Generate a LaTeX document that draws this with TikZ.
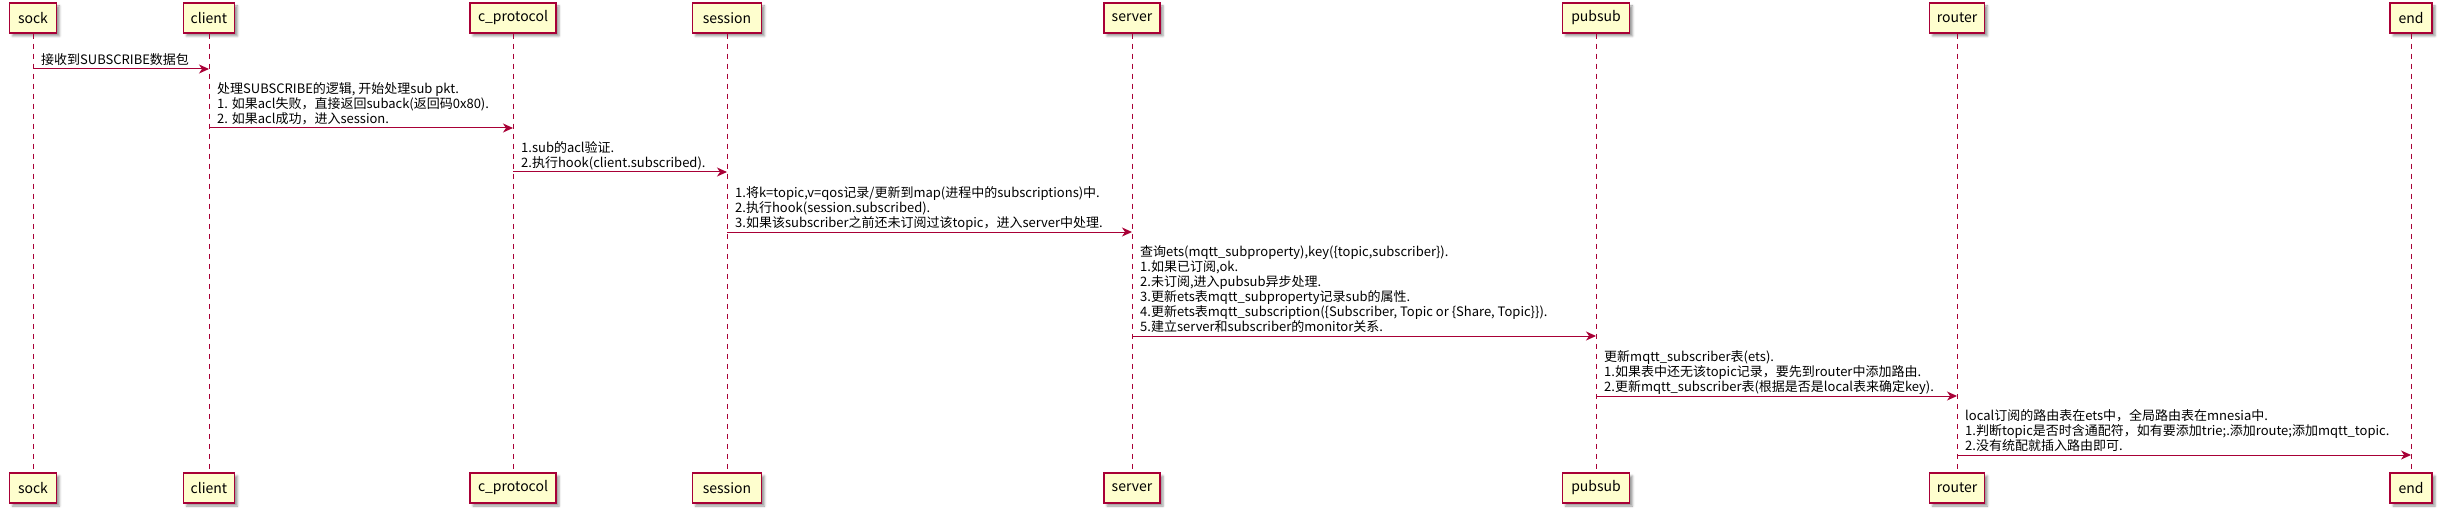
\documentclass[tikz,border=0pt]{standalone}
\usepackage{fontspec}
\setmainfont{Noto Sans CJK SC}
\usepackage{tikz}
\usetikzlibrary{positioning,calc,arrows.meta,shadows.blur}
\definecolor{umlred}{HTML}{A80036}
\definecolor{umlfill}{HTML}{FEFECE}
\tikzstyle{line} = [draw=umlred,line width=1pt]

\begin{document}
\begin{tikzpicture}[x=1pt,y=-1pt,
                actor/.style = {draw=umlred, fill=umlfill, line width=1.5pt,
                  minimum height=30pt, inner sep=0pt,
                  font=\fontsize{14}{16}\selectfont,
                  blur shadow={shadow xshift=3pt, shadow yshift=-3pt, shadow blur steps=4}},
                lifeline/.style = {line, dash pattern=on 5pt off 5pt},
                msg/.style = {line, -{Stealth[length=10pt,width=9pt,inset=3pt]}},
                lbl/.style = {anchor=south west, inner sep=0pt, align=left,
                  font=\fontsize{13}{15}\selectfont}]
                \useasboundingbox (0,0) rectangle (2440,513);
                % participants, top row
                \node[actor, minimum width=47pt] (sock) at (33,18) {sock};
                \node[actor, minimum width=51pt] (client) at (209,18) {client};
                \node[actor, minimum width=86pt] (cproto) at (513,18) {c\_protocol};
                \node[actor, minimum width=69pt] (session) at (727,18) {session};
                \node[actor, minimum width=56pt] (server) at (1132,18) {server};
                \node[actor, minimum width=67pt] (pubsub) at (1596,18) {pubsub};
                \node[actor, minimum width=55pt] (router) at (1957,18) {router};
                \node[actor, minimum width=42pt] (fin) at (2411,18) {end};
                % participants, bottom row
                \node[actor, minimum width=47pt] (sockb) at (33,488) {sock};
                \node[actor, minimum width=51pt] (clientb) at (209,488) {client};
                \node[actor, minimum width=86pt] (cprotob) at (513,488) {c\_protocol};
                \node[actor, minimum width=69pt] (sessionb) at (727,488) {session};
                \node[actor, minimum width=56pt] (serverb) at (1132,488) {server};
                \node[actor, minimum width=67pt] (pubsubb) at (1596,488) {pubsub};
                \node[actor, minimum width=55pt] (routerb) at (1957,488) {router};
                \node[actor, minimum width=42pt] (finb) at (2411,488) {end};
                % lifelines
                \foreach \a/\b in {sock/sockb,client/clientb,cproto/cprotob,session/sessionb,server/serverb,pubsub/pubsubb,router/routerb,fin/finb}
                  \path[lifeline] (\a) -- (\b);
                % message rows
                \coordinate (y1) at (0,69);
                \coordinate (y2) at (0,128);
                \coordinate (y3) at (0,172);
                \coordinate (y4) at (0,232);
                \coordinate (y5) at (0,336);
                \coordinate (y6) at (0,396);
                \coordinate (y7) at (0,455);
                \path[msg] (sock |- y1) -- (client |- y1);
                \node[lbl] (msg1) at ([xshift=8pt]sock |- y1) {接收到SUBSCRIBE数据包\strut};
                \path[msg] (client |- y2) -- (cproto |- y2);
                \node[lbl] (msg2) at ([xshift=8pt]client |- y2) {处理SUBSCRIBE的逻辑, 开始处理sub pkt.\\1. 如果acl失败，直接返回suback(返回码0x80).\\2. 如果acl成功，进入session.\strut};
                \path[msg] (cproto |- y3) -- (session |- y3);
                \node[lbl] (msg3) at ([xshift=8pt]cproto |- y3) {1.sub的acl验证.\\2.执行hook(client.subscribed).\strut};
                \path[msg] (session |- y4) -- (server |- y4);
                \node[lbl] (msg4) at ([xshift=8pt]session |- y4) {1.将k=topic,v=qos记录/更新到map(进程中的subscriptions)中.\\2.执行hook(session.subscribed).\\3.如果该subscriber之前还未订阅过该topic，进入server中处理.\strut};
                \path[msg] (server |- y5) -- (pubsub |- y5);
                \node[lbl] (msg5) at ([xshift=8pt]server |- y5) {查询ets(mqtt\_subproperty),key(\{topic,subscriber\}).\\1.如果已订阅,ok.\\2.未订阅,进入pubsub异步处理.\\3.更新ets表mqtt\_subproperty记录sub的属性.\\4.更新ets表mqtt\_subscription(\{Subscriber, Topic or \{Share, Topic\}\}).\\5.建立server和subscriber的monitor关系.\strut};
                \path[msg] (pubsub |- y6) -- (router |- y6);
                \node[lbl] (msg6) at ([xshift=8pt]pubsub |- y6) {更新mqtt\_subscriber表(ets).\\1.如果表中还无该topic记录，要先到router中添加路由.\\2.更新mqtt\_subscriber表(根据是否是local表来确定key).\strut};
                \path[msg] (router |- y7) -- (fin |- y7);
                \node[lbl] (msg7) at ([xshift=8pt]router |- y7) {local订阅的路由表在ets中，全局路由表在mnesia中.\\1.判断topic是否时含通配符，如有要添加trie;.添加route;添加mqtt\_topic.\\2.没有统配就插入路由即可.\strut};
            \end{tikzpicture}
\end{document}
